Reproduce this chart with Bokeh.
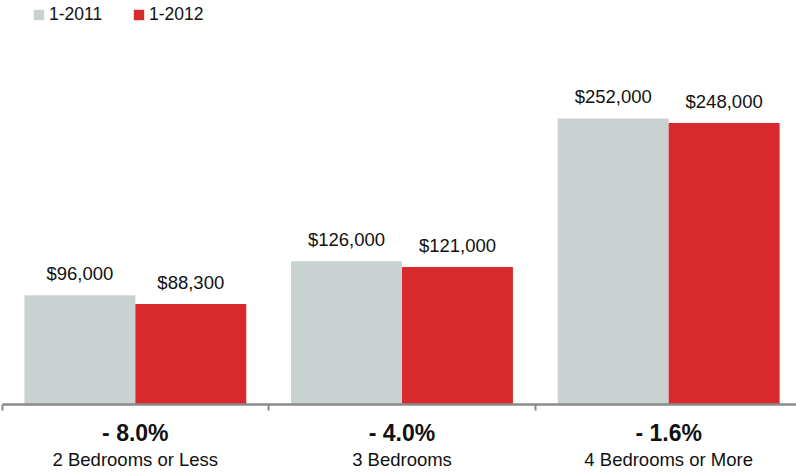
import numpy as np
from bokeh.plotting import figure
from bokeh.models import (ColumnDataSource, Range1d, FixedTicker, LabelSet,
                          Legend, LegendItem)
from bokeh.core.properties import value
from bokeh.embed import file_html
from bokeh.resources import INLINE

# ---- data ----
categories = ["2 Bedrooms or Less", "3 Bedrooms", "4 Bedrooms or More"]
values_2011 = [96000, 126000, 252000]
values_2012 = [88300, 121000, 248000]
change_labels = ["- 8.0%", "- 4.0%", "- 1.6%"]
series_names = ["1-2011", "1-2012"]

# ---- style / layout ----
GRAY = "#c9d2d0"
RED = "#d8292c"
AXIS = "#8a8a8a"
TEXT = "#111111"
FONT = "Liberation Sans"

W, H = 796, 472
PX_PER_CAT = 266.67          # horizontal pixels per category
X0_PX = 1.5                  # pixel position of the first category boundary
BASE_PX = 403.5              # pixel position of the baseline (value 0)
PX_PER_VAL = 1.133 / 1000    # vertical pixels per dollar

x_start = -X0_PX / PX_PER_CAT
x_end = x_start + W / PX_PER_CAT
y_end = BASE_PX / PX_PER_VAL
y_start = -(H - BASE_PX) / PX_PER_VAL

p = figure(width=W, height=H, output_backend="svg", toolbar_location=None,
           x_range=Range1d(x_start, x_end), y_range=Range1d(y_start, y_end),
           y_axis_location=None,
           min_border_left=0, min_border_right=0, min_border_top=0,
           min_border_bottom=0)
p.outline_line_color = None
p.xgrid.visible = False
p.ygrid.visible = False
p.background_fill_color = "white"
p.border_fill_color = "white"

n = len(categories)
centers = np.arange(n) + 0.5
bw = 0.416
src = ColumnDataSource(dict(
    x1=centers - bw / 2, x2=centers + bw / 2, c=centers,
    v1=values_2011, v2=values_2012, zero=[0] * n,
    t1=[f"${v:,}" for v in values_2011],
    t2=[f"${v:,}" for v in values_2012],
    chg=change_labels, cat=categories,
))

r1 = p.vbar(x="x1", top="v1", bottom=0, width=bw, source=src,
            fill_color=GRAY, line_color=None)
r2 = p.vbar(x="x2", top="v2", bottom=0, width=bw, source=src,
            fill_color=RED, line_color=None)

for xc, vc, tc in (("x1", "v1", "t1"), ("x2", "v2", "t2")):
    p.add_layout(LabelSet(x=xc, y=vc, text=tc, source=src, y_offset=15,
                          text_align="center", text_baseline="alphabetic",
                          text_font=value(FONT), text_font_size="18.5px",
                          text_color=TEXT))

p.add_layout(LabelSet(x="c", y="zero", text="chg", source=src, y_offset=-37,
                      text_align="center", text_baseline="alphabetic",
                      text_font=value(FONT), text_font_size="23px",
                      text_font_style="bold", text_color=TEXT))

p.add_layout(LabelSet(x="c", y="zero", text="cat", source=src, y_offset=-62,
                      text_align="center", text_baseline="alphabetic",
                      text_font=value(FONT), text_font_size="18.5px",
                      text_color=TEXT))

ax = p.xaxis[0]
ax.fixed_location = 0
ax.bounds = (0, n)
ax.ticker = FixedTicker(ticks=list(range(n + 1)), minor_ticks=[])
ax.major_label_overrides = {i: "" for i in range(n + 1)}
ax.major_tick_out = 6
ax.major_tick_in = 0
ax.minor_tick_out = 0
ax.minor_tick_in = 0
ax.major_tick_line_color = AXIS
ax.major_tick_line_width = 2
ax.axis_line_color = AXIS
ax.axis_line_width = 2.5

legend = Legend(items=[LegendItem(label=series_names[0], renderers=[r1]),
                       LegendItem(label=series_names[1], renderers=[r2])],
                orientation="horizontal", location=(32, 447),
                glyph_width=13, glyph_height=13, label_standoff=4,
                label_width=83, spacing=0, padding=0, margin=0,
                label_height=20,
                label_text_font=FONT, label_text_font_size="17.5px",
                label_text_color=TEXT,
                border_line_color=None, background_fill_alpha=0)
p.add_layout(legend)

open("out.html", "w").write(file_html(p, INLINE))
